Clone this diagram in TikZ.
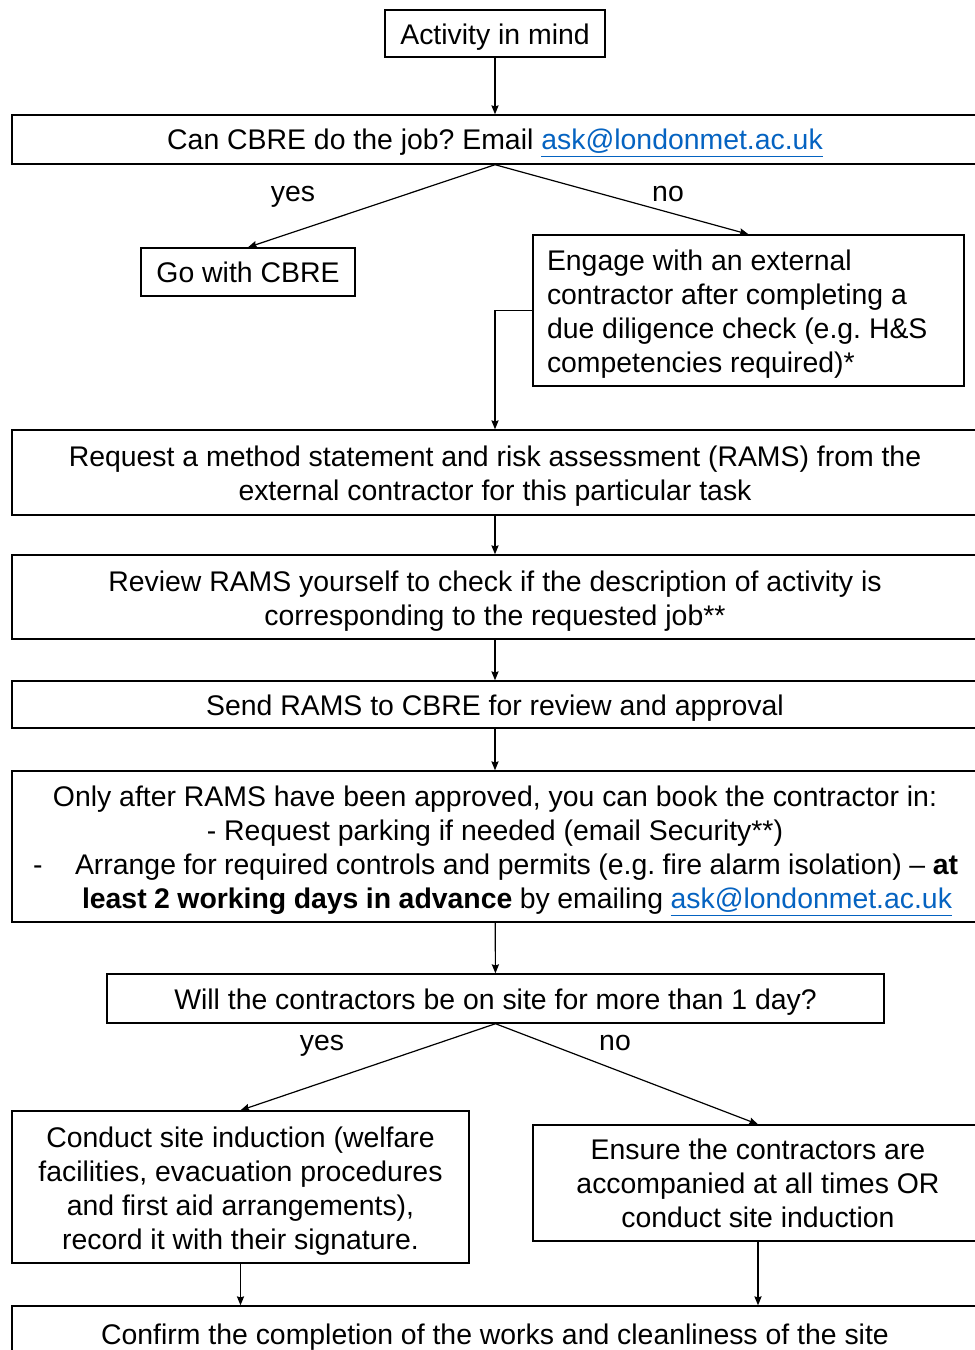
\documentclass[tikz,border=0pt]{standalone}
\usepackage{fontspec}
\setmainfont{Liberation Sans}
\usepackage{tikz}
\usetikzlibrary{arrows.meta}
\usepackage{xcolor}
\definecolor{linkblue}{HTML}{0563C1}
\newcommand{\askmail}{\textcolor{linkblue}{\underline{ask@londonmet.ac.uk}}}

\begin{document}
\begin{tikzpicture}[x=0.5pt,y=-0.5pt,>={Stealth[length=4.5pt,width=3.6pt,inset=0.6pt]}]
\tikzset{
    stepbox/.style={%
        draw=black, line width=0.7pt,
        rectangle, inner sep=0pt,
        font=\fontsize{14.2pt}{17pt}\selectfont\frenchspacing,
        text height=14pt,
        align=flush center
        },
    wh/.style 2 args={minimum width=#1*0.5pt, minimum height=#2*0.5pt},
    lbl/.style={font=\fontsize{14.2pt}{17pt}\selectfont, inner sep=0pt, anchor=base},
    link/.style={->, line width=0.6pt},
}
\useasboundingbox (0,0) rectangle (975,1350);
%%%BOXES
\node[stepbox, wh={220}{47}] (act) at (495,33.5) {Activity in mind};
\node[stepbox, wh={966}{49}] (cbre) at (495,139.5) {Can CBRE do the job? Email \askmail};
\node[stepbox, wh={214}{48}, text height=10.4pt] (go) at (248,272) {Go with CBRE};
\node[stepbox, wh={431}{151}, align=flush left, text width=201.5pt] (eng) at (748.5,310.5)
    {Engage with an external\\ contractor after completing a\\ due diligence check (e.g. H\&S\\ competencies required)*};
\node[stepbox, wh={966}{85}, text width=475pt] (rams) at (495,472.5)
    {Request a method statement and risk assessment (RAMS) from the\\ external contractor for this particular task};
\node[stepbox, wh={966}{84}, text width=475pt] (rev) at (495,597)
    {Review RAMS yourself to check if the description of activity is\\ corresponding to the requested job**};
\node[stepbox, wh={966}{47}] (send) at (495,704.5) {Send RAMS to CBRE for review and approval};
\node[stepbox, wh={966}{151}, text width=475pt, text height=15pt] (book) at (495,846.5)
    {Only after RAMS have been approved, you can book the contractor in:\\
     - Request parking if needed (email Security**)\\
     \makebox[475pt][l]{\hspace{6.5pt}-\hspace{16.3pt}\spaceskip=0.2em plus 0.1em minus 0.1em\makebox[441.5pt][s]{Arrange for required controls and permits (e.g. fire alarm isolation) -- \textbf{at}}}\\
     \makebox[475pt][l]{\hspace{31pt}\spaceskip=0.2em plus 0.1em minus 0.1em\makebox[435pt][s]{\textbf{least 2 working days in advance} by emailing \askmail}}};
\node[stepbox, wh={777}{49}] (will) at (495.5,998.5) {Will the contractors be on site for more than 1 day?};
\node[stepbox, wh={457}{152}, text width=220pt] (cond) at (240.5,1187)
    {Conduct site induction (welfare\\ facilities, evacuation procedures\\ and first aid arrangements),\\ record it with their signature.};
\node[stepbox, wh={450}{116}, text width=215pt, text height=10.4pt] (ens) at (758,1183)
    {Ensure the contractors are\\ accompanied at all times OR\\ conduct site induction};
\node[stepbox, wh={966}{54}] (conf) at (495,1333) {Confirm the completion of the works and cleanliness of the site};
%%%LABELS
\node[lbl] (yes1) at (293,201) {yes};
\node[lbl] (no1) at (668,201) {no};
\node[lbl] (yes2) at (322,1050) {yes};
\node[lbl] (no2) at (615,1050) {no};
%%%CONNECTORS
\draw[link] (act) -- (cbre);
\draw[link] (cbre.south) -- (go.north);
\draw[link] (cbre.south) -- (eng.north);
\draw[link] (eng.west) -| (rams.north);
\draw[link] (rams) -- (rev);
\draw[link] (rev) -- (send);
\draw[link] (send) -- (book);
\draw[link] (book) -- (will);
\draw[link] (will.south) -- (cond.north);
\draw[link] (will.south) -- (ens.north);
\draw[link] (cond.south) -- (cond.south |- conf.north);
\draw[link] (ens.south) -- (ens.south |- conf.north);
\end{tikzpicture}
\end{document}
